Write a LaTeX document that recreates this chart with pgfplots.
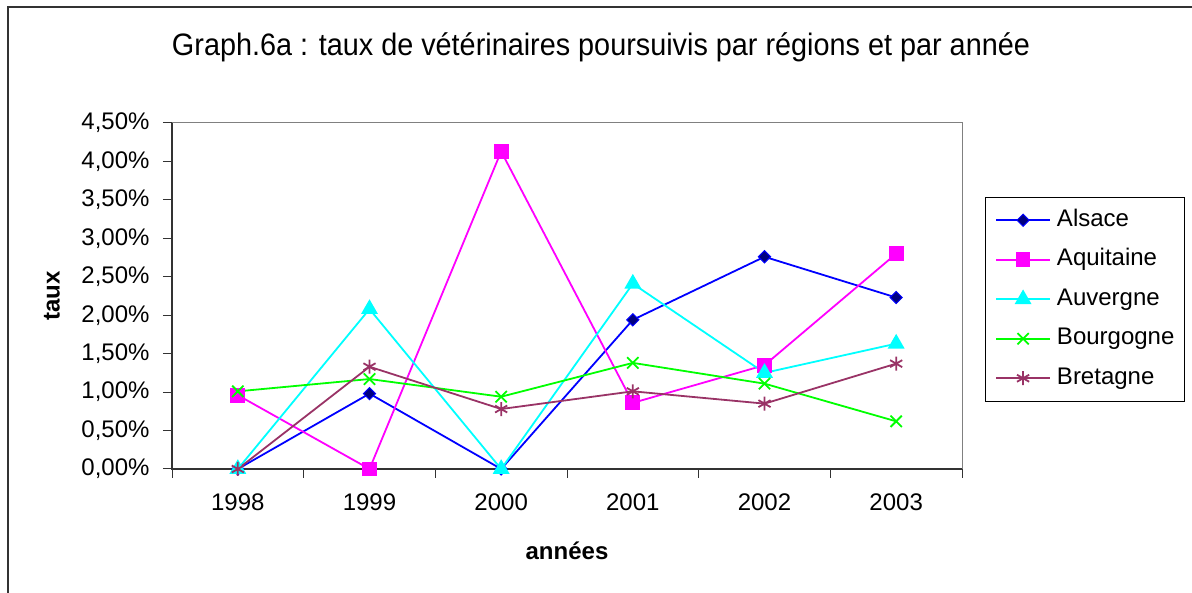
\documentclass[border=0pt]{standalone}
\usepackage{fontspec}
\setmainfont{Liberation Sans}
\usepackage{graphicx}
\usepackage{pgfplots}
\pgfplotsset{compat=1.18}
\definecolor{cAls}{RGB}{0,0,255}
\definecolor{cAlsF}{RGB}{0,0,128}
\definecolor{cAqu}{RGB}{255,0,255}
\definecolor{cAuv}{RGB}{0,255,255}
\definecolor{cBou}{RGB}{0,255,0}
\definecolor{cBre}{RGB}{153,51,102}
\begin{document}
\begin{tikzpicture}
\useasboundingbox (0,0) rectangle (1192pt,593pt);
\draw[line width=2pt, black!80] (8pt,0pt) -- (8pt,586pt) -- (1192pt,586pt);
\node[anchor=base, font=\fontsize{31}{32}\selectfont, inner sep=0pt] at (601pt,537pt) {\resizebox{858pt}{\height}{Graph.6a : taux de vétérinaires poursuivis par régions et par année}};
\begin{axis}[
  at={(172pt,124pt)}, anchor=south west,
  scale only axis, width=790pt, height=346pt,
  xmin=0, xmax=6, ymin=0, ymax=4.5,
  clip=false,
  xtick={0,1,2,3,4,5,6}, x tick label as interval,
  xticklabels={1998,1999,2000,2001,2002,2003},
  ytick={0,0.5,1,1.5,2,2.5,3,3.5,4,4.5},
  yticklabels={{0,00\%},{0,50\%},{1,00\%},{1,50\%},{2,00\%},{2,50\%},{3,00\%},{3,50\%},{4,00\%},{4,50\%}},
  tick align=outside, major tick length=9pt, tick pos=left,
  axis line style={gray, line width=1pt},
  tick style={black!80, line width=1pt},
  ticklabel style={font=\fontsize{24}{24}\selectfont},
  yticklabel style={xshift=-10pt},
  xticklabel style={yshift=-12pt},
  xlabel={années}, ylabel={taux},
  label style={font=\bfseries\fontsize{24}{24}\selectfont},
  xlabel style={at={(axis description cs:0.5,-0.237)}, anchor=center},
  ylabel style={at={(axis description cs:-0.152,0.5)}, anchor=center},
  legend style={at={(1.0291,0.786)}, anchor=north west, draw=black, fill=white,
    font=\fontsize{24}{24}\selectfont, inner xsep=10pt, inner ysep=12pt,
    row sep=17.5pt, column sep=6pt,
    nodes={inner sep=0pt, text height=17pt, text depth=5pt}},
  legend cell align=left,
  legend image code/.code={\draw[mark repeat=2,mark phase=2] plot coordinates {(0pt,0pt) (27pt,0pt) (54pt,0pt)};},
  every axis plot/.append style={line width=1.8pt},
]
\draw[black!80, line width=1.5pt] (rel axis cs:0,1) -- (rel axis cs:0,0) -- (rel axis cs:1,0);
\addplot[cAls, mark=square*, mark size=4.3pt, mark options={rotate=45, fill=cAlsF, draw=cAls, line width=1pt}]
  coordinates {(0.5,0) (1.5,0.98) (2.5,0) (3.5,1.94) (4.5,2.76) (5.5,2.23)};
\addlegendentry{Alsace}
\addplot[cAqu, mark=square*, mark size=6.5pt, mark options={fill=cAqu, draw=cAqu}]
  coordinates {(0.5,0.96) (1.5,0) (2.5,4.13) (3.5,0.86) (4.5,1.35) (5.5,2.80)};
\addlegendentry{Aquitaine}
\addplot[cAuv, mark=triangle*, mark size=8pt, mark options={fill=cAuv, draw=cAuv}]
  coordinates {(0.5,0) (1.5,2.08) (2.5,0) (3.5,2.41) (4.5,1.25) (5.5,1.63)};
\addlegendentry{Auvergne}
\addplot[cBou, mark=x, mark size=8pt, mark options={line width=1.8pt}]
  coordinates {(0.5,1.01) (1.5,1.17) (2.5,0.94) (3.5,1.38) (4.5,1.11) (5.5,0.62)};
\addlegendentry{Bourgogne}
\addplot[cBre, mark=asterisk, mark size=7pt, mark options={line width=1.8pt}]
  coordinates {(0.5,0) (1.5,1.33) (2.5,0.78) (3.5,1.01) (4.5,0.85) (5.5,1.37)};
\addlegendentry{Bretagne}
\end{axis}
\end{tikzpicture}
\end{document}
